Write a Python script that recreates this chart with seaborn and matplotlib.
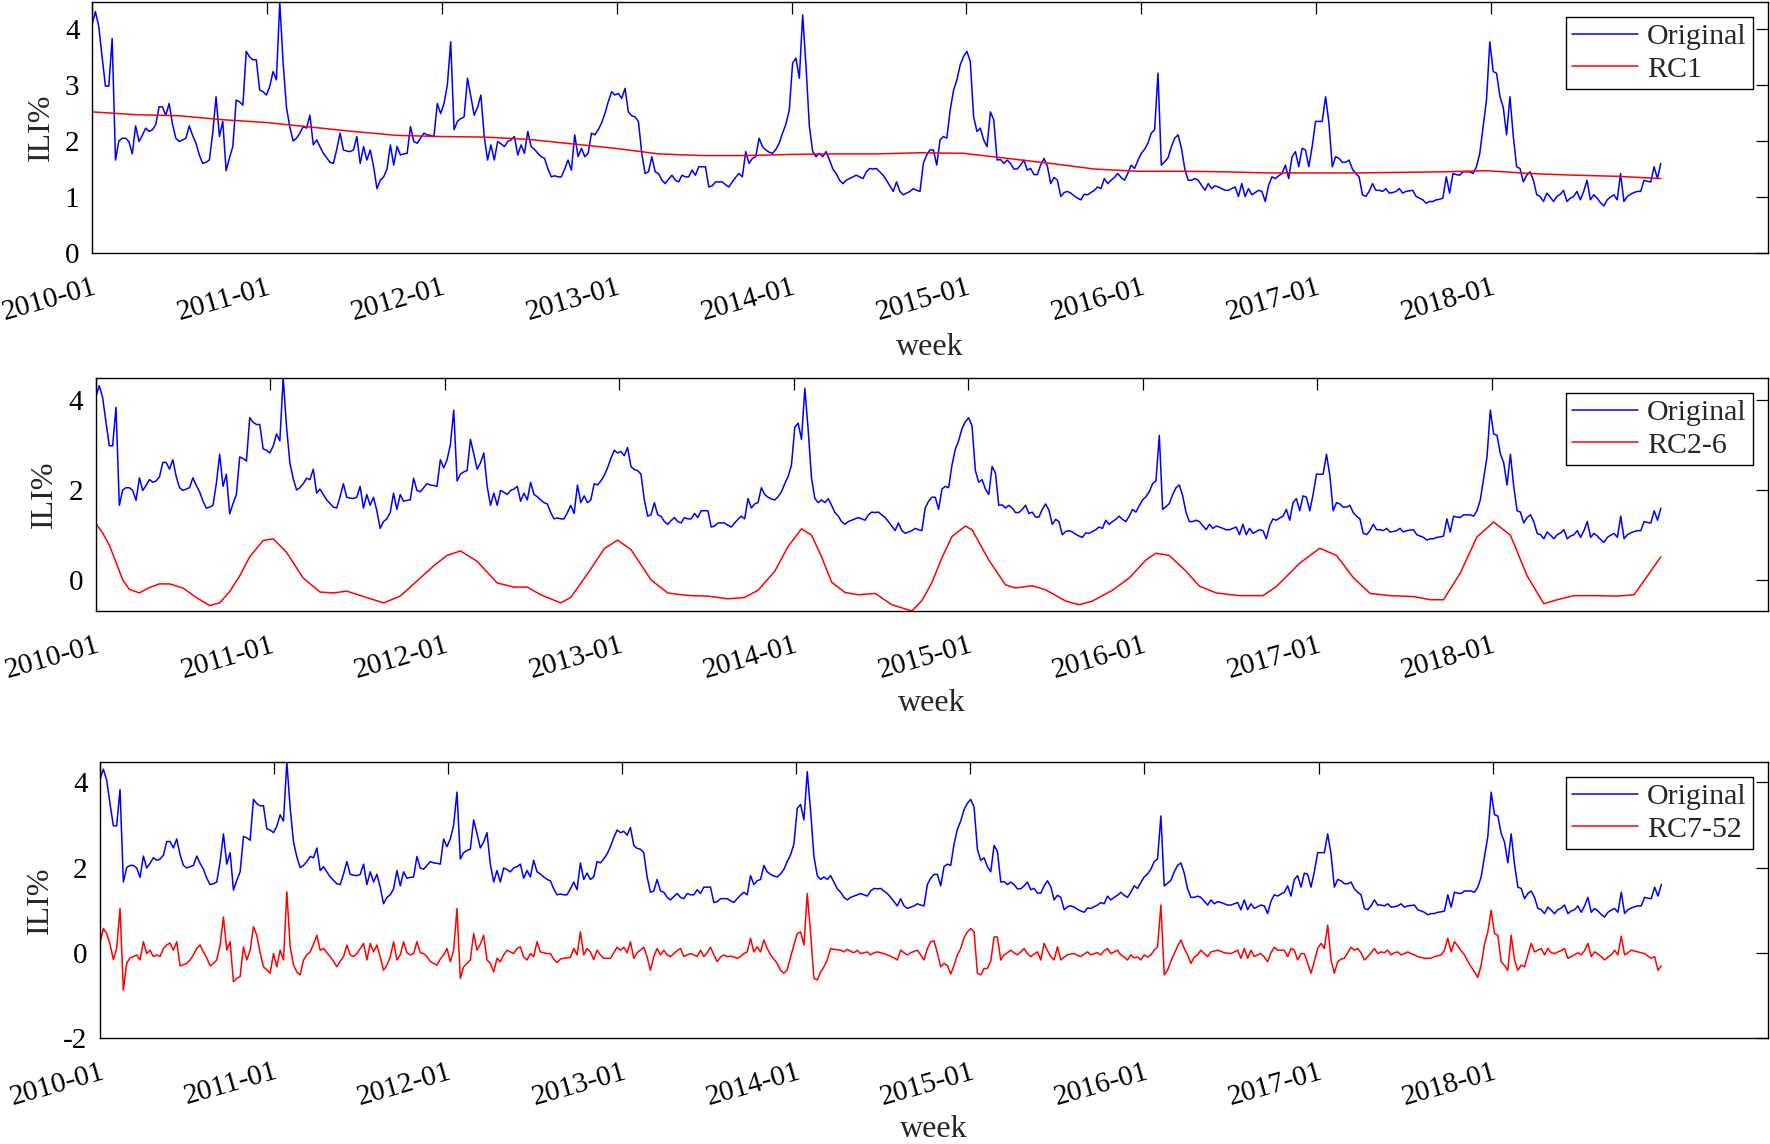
import pandas as pd
import matplotlib
matplotlib.use("Agg")
import matplotlib.pyplot as plt
import seaborn as sns

# weekly ILI%, first week starts 2010-01-01
start_date = "2010-01-01"
tick_labels = ["2010-01", "2011-01", "2012-01", "2013-01", "2014-01",
               "2015-01", "2016-01", "2017-01", "2018-01"]

ili_2010 = [4.07, 4.31, 4.05, 3.50, 2.98, 2.98, 3.83, 1.66, 2.00, 2.05, 2.05, 1.99, 1.77,
            2.27, 1.99, 2.10, 2.23, 2.17, 2.20, 2.29, 2.61, 2.61, 2.46, 2.67, 2.30, 2.05,
            1.99, 2.02, 2.05, 2.27, 2.10, 1.96, 1.75, 1.60, 1.62, 1.66, 2.14, 2.79, 2.08,
            2.35, 1.47, 1.70, 1.90, 2.73, 2.70, 2.64, 3.60, 3.50, 3.45, 3.45, 2.91, 2.88]
ili_2011 = [2.82, 2.97, 3.24, 3.09, 4.48, 3.40, 2.60, 2.25, 2.00, 2.05, 2.14, 2.26, 2.23,
            2.46, 1.93, 2.02, 1.90, 1.78, 1.70, 1.62, 1.60, 1.85, 2.14, 1.84, 1.82, 1.81,
            1.84, 2.08, 1.60, 1.90, 1.66, 1.84, 1.54, 1.15, 1.30, 1.36, 1.50, 1.93, 1.57,
            1.90, 1.75, 1.77, 1.78, 2.26, 1.99, 1.96, 2.05, 2.14, 2.11, 2.10, 2.08, 2.67]
ili_2012 = [2.49, 2.67, 3.00, 3.77, 2.20, 2.35, 2.40, 2.43, 3.12, 2.80, 2.46, 2.60, 2.82,
            2.08, 1.66, 1.93, 1.66, 1.99, 1.95, 1.90, 1.99, 2.02, 2.08, 1.75, 1.93, 1.78,
            2.17, 1.90, 1.85, 1.78, 1.72, 1.69, 1.50, 1.36, 1.38, 1.36, 1.36, 1.50, 1.66,
            1.48, 2.11, 1.72, 1.87, 1.72, 1.78, 2.14, 2.11, 2.20, 2.32, 2.49, 2.70, 2.88]
ili_2013 = [2.82, 2.85, 2.76, 2.94, 2.52, 2.45, 2.43, 2.35, 1.78, 1.42, 1.45, 1.72, 1.45,
            1.42, 1.30, 1.24, 1.32, 1.39, 1.30, 1.27, 1.39, 1.36, 1.36, 1.48, 1.39, 1.54,
            1.54, 1.54, 1.18, 1.20, 1.27, 1.27, 1.27, 1.22, 1.18, 1.27, 1.35, 1.42, 1.36,
            1.81, 1.60, 1.69, 1.72, 2.05, 1.90, 1.84, 1.80, 1.78, 1.85, 1.96, 2.14, 2.30]
ili_2014 = [2.55, 3.39, 3.48, 3.12, 4.25, 3.33, 2.26, 1.81, 1.72, 1.78, 1.72, 1.81, 1.66,
            1.50, 1.42, 1.30, 1.24, 1.30, 1.33, 1.36, 1.39, 1.36, 1.33, 1.45, 1.51, 1.50,
            1.51, 1.45, 1.39, 1.30, 1.20, 1.10, 1.27, 1.10, 1.04, 1.07, 1.10, 1.15, 1.12,
            1.10, 1.60, 1.75, 1.84, 1.84, 1.57, 2.02, 2.08, 2.05, 2.55, 2.90, 3.09, 3.36]
ili_2015 = [3.51, 3.60, 3.42, 2.43, 2.17, 2.23, 2.02, 1.90, 2.52, 2.38, 1.66, 1.67, 1.60,
            1.66, 1.60, 1.50, 1.50, 1.57, 1.66, 1.48, 1.51, 1.40, 1.40, 1.57, 1.69, 1.55,
            1.24, 1.35, 1.30, 1.01, 1.08, 1.10, 1.07, 1.02, 0.98, 0.95, 1.05, 1.04, 1.08,
            1.12, 1.18, 1.15, 1.33, 1.24, 1.30, 1.35, 1.42, 1.35, 1.30, 1.42, 1.57, 1.51]
ili_2016 = [1.65, 1.78, 1.85, 1.96, 2.14, 2.20, 3.21, 1.57, 1.63, 1.70, 1.90, 2.05, 2.11,
            1.87, 1.50, 1.30, 1.30, 1.33, 1.30, 1.21, 1.12, 1.24, 1.15, 1.20, 1.18, 1.15,
            1.12, 1.12, 1.15, 1.18, 1.01, 1.24, 1.01, 1.15, 1.04, 1.08, 1.12, 1.10, 0.92,
            1.21, 1.36, 1.33, 1.38, 1.42, 1.57, 1.33, 1.72, 1.81, 1.54, 1.87, 1.84, 1.54]
ili_2017 = [1.90, 2.35, 2.35, 2.35, 2.79, 2.32, 1.54, 1.72, 1.69, 1.62, 1.62, 1.66, 1.50,
            1.42, 1.36, 1.04, 1.01, 1.10, 1.24, 1.12, 1.12, 1.10, 1.15, 1.07, 1.08, 1.10,
            1.15, 1.07, 1.10, 1.11, 1.12, 1.01, 0.98, 0.95, 0.89, 0.92, 0.92, 0.95, 0.96,
            0.98, 1.36, 1.07, 1.42, 1.40, 1.39, 1.45, 1.45, 1.45, 1.42, 1.54, 1.78, 2.26]
ili_2018 = [2.73, 3.77, 3.24, 3.21, 2.80, 2.60, 2.11, 2.79, 2.08, 1.54, 1.51, 1.27, 1.39,
            1.45, 1.30, 1.04, 1.01, 0.92, 1.07, 1.00, 0.92, 1.01, 1.05, 1.12, 0.92, 0.98,
            1.01, 1.10, 0.95, 1.10, 1.30, 0.95, 1.04, 0.98, 0.90, 0.84, 0.95, 1.00, 1.04,
            0.95, 1.42, 0.92, 1.01, 1.05, 1.08, 1.10, 1.10, 1.30, 1.28, 1.27, 1.54, 1.33,
            1.60]

# RC1 (trend), sampled every 13 weeks
rc1_week = [0, 13, 26, 39, 52, 65, 78, 91, 104, 117, 130, 143, 156, 169, 182, 195, 208,
            221, 234, 247, 260, 273, 286, 299, 312, 325, 338, 351, 364, 377, 390, 403,
            416, 429, 442, 455, 468]
rc1 = [2.52, 2.47, 2.45, 2.38, 2.33, 2.25, 2.17, 2.10, 2.08, 2.07, 2.03, 1.95, 1.87, 1.77,
       1.74, 1.74, 1.76, 1.77, 1.77, 1.79, 1.78, 1.69, 1.60, 1.50, 1.46, 1.46, 1.45, 1.43,
       1.43, 1.43, 1.44, 1.45, 1.47, 1.42, 1.39, 1.37, 1.33]

# RC2-6 (seasonal part)
rc26_week = [0, 2, 4, 6, 8, 10, 13, 16, 19, 22, 26, 30, 34, 37, 40, 43, 46, 50, 53, 57,
             62, 67, 71, 75, 80, 86, 91, 97, 101, 105, 109, 114, 120, 125, 129, 133, 139,
             142, 148, 152, 156, 160, 166, 171, 175, 178, 183, 189, 194, 198, 203, 207,
             211, 214, 217, 220, 224, 228, 233, 238, 244, 247, 250, 253, 256, 260, 262,
             267, 272, 275, 280, 284, 290, 294, 298, 304, 309, 314, 317, 321, 326, 330,
             335, 342, 349, 353, 360, 366, 371, 376, 381, 387, 394, 399, 403, 408, 413,
             418, 423, 428, 433, 437, 442, 449, 455, 460, 464, 468]
rc26 = [1.25, 1.05, 0.78, 0.40, 0.01, -0.20, -0.28, -0.16, -0.08, -0.08, -0.17, -0.38,
        -0.56, -0.50, -0.25, 0.10, 0.52, 0.88, 0.92, 0.62, 0.05, -0.26, -0.28, -0.24,
        -0.36, -0.50, -0.35, 0.05, 0.32, 0.55, 0.65, 0.42, -0.06, -0.15, -0.15, -0.32,
        -0.50, -0.38, 0.25, 0.70, 0.89, 0.68, 0.01, -0.28, -0.32, -0.34, -0.35, -0.41,
        -0.38, -0.22, 0.20, 0.75, 1.14, 1.00, 0.52, -0.04, -0.27, -0.32, -0.29, -0.54,
        -0.68, -0.45, -0.05, 0.50, 0.97, 1.20, 1.12, 0.45, -0.10, -0.17, -0.12, -0.21,
        -0.46, -0.54, -0.46, -0.22, 0.05, 0.45, 0.60, 0.55, 0.20, -0.13, -0.28, -0.34,
        -0.34, -0.14, 0.38, 0.71, 0.55, 0.06, -0.29, -0.34, -0.36, -0.43, -0.43, 0.16,
        0.96, 1.29, 1.00, 0.10, -0.52, -0.43, -0.34, -0.34, -0.35, -0.32, 0.10, 0.52]

# RC7-52 (residual), weekly
rc7_2010 = [0.22, 0.57, 0.45, 0.20, -0.16, 0.10, 1.04, -0.88, -0.25, -0.12, -0.09, -0.05,
            -0.17, 0.26, -0.02, 0.06, -0.09, -0.05, -0.09, 0.10, 0.18, 0.23, 0.06, 0.26,
            -0.31, -0.28, -0.25, -0.17, -0.05, 0.10, 0.18, 0.02, -0.12, -0.31, -0.25,
            -0.17, 0.18, 0.84, 0.06, 0.26, -0.68, -0.60, -0.56, 0.14, -0.17, 0.06, 0.61,
            0.41, 0.00, -0.33, -0.40, -0.48]
rc7_2011 = [-0.02, -0.33, 0.06, -0.17, 1.43, 0.14, -0.29, -0.45, -0.52, -0.17, -0.05,
            0.02, 0.20, 0.41, 0.06, 0.10, 0.00, -0.09, -0.20, -0.33, -0.20, -0.09, 0.18,
            -0.05, -0.09, -0.02, 0.10, 0.22, -0.17, 0.22, 0.02, 0.18, -0.10, -0.41, -0.29,
            -0.10, 0.26, -0.17, -0.05, 0.26, 0.00, -0.05, -0.02, 0.26, 0.00, -0.02, -0.09,
            -0.21, -0.25, -0.29, -0.15, -0.05]
rc7_2012 = [0.10, -0.21, 0.06, 1.04, -0.60, -0.33, -0.25, -0.17, 0.45, 0.06, 0.20, 0.41,
            -0.17, -0.25, -0.45, -0.13, -0.21, -0.05, 0.06, 0.02, -0.02, 0.10, 0.14, -0.10,
            -0.17, -0.02, -0.09, 0.26, 0.02, 0.00, -0.02, -0.02, -0.15, -0.23, -0.15,
            -0.13, -0.12, -0.11, 0.10, -0.05, 0.49, -0.05, 0.10, 0.02, -0.16, 0.06, -0.05,
            -0.13, -0.13, -0.13, 0.00, 0.13]
rc7_2013 = [0.06, 0.13, 0.00, 0.26, -0.13, 0.00, 0.06, 0.13, -0.10, -0.41, -0.09, 0.10,
            -0.05, 0.06, -0.05, -0.09, -0.02, 0.05, 0.10, -0.09, -0.05, -0.02, -0.05,
            -0.09, 0.06, -0.09, 0.00, 0.13, -0.05, -0.21, -0.10, -0.05, -0.09, -0.08,
            -0.10, -0.13, -0.09, -0.02, 0.02, 0.34, 0.02, 0.14, 0.02, 0.30, 0.10, -0.05,
            -0.15, -0.25, -0.41, -0.48, -0.40, -0.10]
rc7_2014 = [0.18, 0.45, 0.49, 0.18, 1.39, 0.45, -0.60, -0.64, -0.45, -0.33, -0.17, 0.10,
            0.08, 0.07, 0.06, 0.02, 0.08, 0.03, 0.00, 0.06, -0.02, 0.00, 0.02, -0.05, 0.00,
            0.02, 0.00, -0.02, -0.05, -0.08, -0.12, -0.17, 0.06, 0.00, -0.05, 0.00, 0.03,
            0.06, -0.05, -0.17, 0.10, 0.26, 0.28, 0.00, -0.33, -0.25, -0.30, -0.50, -0.30,
            -0.05, 0.10, 0.35]
rc7_2015 = [0.49, 0.57, 0.49, -0.48, -0.52, -0.37, -0.37, -0.20, 0.37, 0.37, -0.17,
            -0.05, 0.00, 0.06, 0.00, -0.05, 0.02, 0.10, -0.02, -0.09, -0.03, 0.02, -0.17,
            0.22, 0.05, -0.09, -0.17, 0.14, -0.17, -0.10, -0.05, -0.03, -0.02, -0.06,
            -0.09, -0.03, 0.02, -0.05, -0.02, 0.00, -0.05, 0.05, 0.10, -0.02, 0.02, 0.06,
            -0.05, -0.10, -0.17, -0.05, -0.12, -0.10]
rc7_2016 = [-0.17, -0.05, -0.10, -0.05, 0.06, 0.14, 1.12, -0.52, -0.41, -0.20, -0.02,
            0.15, 0.30, 0.10, -0.05, -0.25, -0.10, -0.05, 0.06, -0.02, -0.09, 0.02, 0.04,
            0.06, 0.03, 0.00, -0.01, -0.02, 0.02, 0.06, -0.13, 0.10, -0.13, 0.06, -0.09,
            -0.05, -0.02, -0.10, -0.21, 0.00, 0.13, 0.06, 0.06, 0.06, -0.09, 0.10, 0.06,
            -0.17, -0.02, -0.02, -0.25, -0.48]
rc7_2017 = [-0.20, 0.10, 0.22, 0.10, 0.65, -0.17, -0.48, -0.21, -0.15, -0.13, 0.00, 0.13,
            0.06, 0.10, 0.00, -0.17, -0.09, 0.00, 0.10, -0.02, 0.02, 0.00, 0.06, -0.05,
            0.00, 0.02, -0.05, -0.02, 0.02, -0.02, -0.05, -0.09, -0.11, -0.13, -0.13,
            -0.13, -0.09, -0.07, -0.05, 0.06, 0.34, 0.02, 0.26, 0.16, 0.05, -0.05, -0.20,
            -0.33, -0.45, -0.58, -0.29, 0.20]
rc7_2018 = [0.49, 1.00, 0.45, 0.41, -0.21, -0.30, -0.41, 0.41, -0.17, -0.41, -0.29,
            -0.33, -0.05, 0.22, 0.02, 0.06, 0.10, -0.05, 0.10, 0.00, -0.02, 0.02, 0.05,
            0.10, -0.13, -0.09, -0.05, 0.00, -0.05, 0.05, 0.22, -0.09, 0.02, -0.03, -0.09,
            -0.17, -0.10, -0.05, 0.06, -0.05, 0.39, -0.05, 0.00, 0.06, 0.04, 0.02, 0.00,
            -0.02, -0.08, -0.13, -0.09, -0.41, -0.31]

sns.set_theme(style="white")
plt.rcParams["font.family"] = ["Liberation Serif", "DejaVu Serif"]
plt.rcParams["axes.unicode_minus"] = False

ili = (ili_2010 + ili_2011 + ili_2012 + ili_2013 + ili_2014 + ili_2015 + ili_2016
       + ili_2017 + ili_2018)
rc7_52 = (rc7_2010 + rc7_2011 + rc7_2012 + rc7_2013 + rc7_2014 + rc7_2015 + rc7_2016
          + rc7_2017 + rc7_2018)

start = pd.Timestamp(start_date)
weeks = pd.date_range(start, periods=len(ili), freq="7D")
rc1_dates = start + pd.to_timedelta(rc1_week, unit="W")
rc26_dates = start + pd.to_timedelta(rc26_week, unit="W")
tick_pos = pd.to_datetime([t + "-01" for t in tick_labels])
x_end = start + pd.Timedelta(weeks=500)

fig = plt.figure(figsize=(17.7, 11.44), dpi=100)

# axes rect, component x, component y, legend name, y limits, y ticks, ylabel x, xlabel y
panels = [
    ([0.0520, 0.7788, 0.9469, 0.2194], rc1_dates, rc1, "RC1",
     (0, max(ili)), [0, 1, 2, 3, 4], -0.030, -0.375),
    ([0.0542, 0.4659, 0.9446, 0.2037], rc26_dates, rc26, "RC2-6",
     (min(rc26), max(ili)), [0, 2, 4], -0.031, -0.395),
    ([0.0565, 0.0927, 0.9424, 0.2413], weeks, rc7_52, "RC7-52",
     (-2, max(ili)), [-2, 0, 2, 4], -0.036, -0.330),
]

for rect, cx, cy, name, ylim, yticks, ylab_x, xlab_y in panels:
    ax = fig.add_axes(rect)
    sns.lineplot(x=weeks, y=ili, ax=ax, color="blue", lw=1.1, label="Original",
                 errorbar=None)
    sns.lineplot(x=cx, y=cy, ax=ax, color="red", lw=1.1, label=name, errorbar=None)

    ax.set_xlim(start, x_end)
    ax.set_ylim(*ylim)
    ax.set_yticks(yticks)
    ax.set_xticks(tick_pos)
    ax.set_xticklabels(tick_labels, rotation=16, ha="right", rotation_mode="anchor")
    ax.tick_params(direction="in", length=8.5, width=0.9, top=True, right=True,
                   labelsize=21, colors="black")
    ax.tick_params(axis="x", pad=15)
    ax.tick_params(axis="y", pad=9)
    for sp in ax.spines.values():
        sp.set_color("black")
        sp.set_linewidth(1.0)

    ax.set_xlabel("week", fontsize=23)
    ax.xaxis.set_label_coords(0.5, xlab_y)
    ax.xaxis.label.set_va("center")
    ax.set_ylabel("ILI%", fontsize=23)
    ax.yaxis.set_label_coords(ylab_x, 0.5)
    ax.yaxis.label.set_va("center")

    leg = ax.legend(loc="upper right", fontsize=21.5, frameon=True, fancybox=False,
                    edgecolor="black", framealpha=1, handlelength=2.2,
                    handletextpad=0.3, borderpad=0.22, labelspacing=0.18,
                    borderaxespad=0.5)
    leg.get_frame().set_linewidth(1.0)

fig.savefig("out.png", dpi=100)
